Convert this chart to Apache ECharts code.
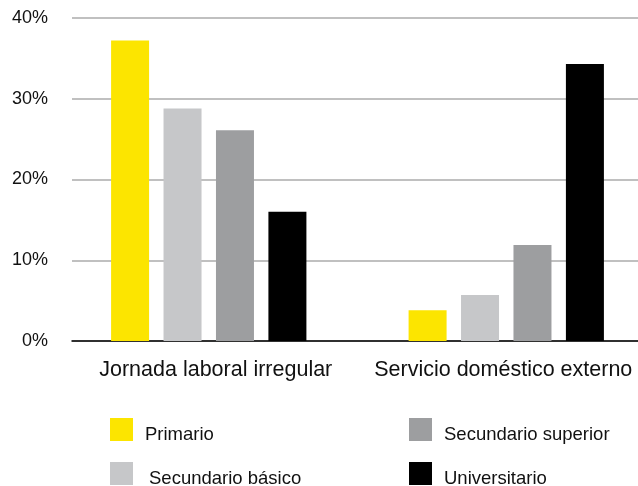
<!DOCTYPE html>
<html>
<head>
<meta charset="utf-8">
<script src="https://cdn.jsdelivr.net/npm/echarts@6/dist/echarts.min.js"></script>
<style>
    html, body { margin: 0; padding: 0; background: #fff; }
    #chart { width: 638px; height: 486px; }
</style>
</head>
<body>
<div id="chart"></div>
<script>
    // datos
    const categories = ['Jornada laboral irregular', 'Servicio doméstico externo'];
    const seriesNames = ['Primario', 'Secundario básico', 'Secundario superior', 'Universitario'];
    const primario = [37.2, 3.8];
    const secundarioBasico = [28.8, 5.7];
    const secundarioSuperior = [26.1, 11.9];
    const universitario = [16.0, 34.3];
    const yTicks = [0, 10, 20, 30, 40];

    const colors = ['#FCE500', '#C6C7C9', '#9D9EA0', '#000000'];
    const font = 'Liberation Sans, Arial, sans-serif';
    const values = [primario, secundarioBasico, secundarioSuperior, universitario];

    // posicion de cada item de leyenda [left, top]
    const legendPos = [[110, 418], [110, 462], [409, 418], [409, 462]];

    const chart = echarts.init(document.getElementById('chart'));

    const option = {
        animation: false,
        color: colors,
        legend: seriesNames.map((name, i) => ({
            orient: 'vertical',
            left: legendPos[i][0],
            top: legendPos[i][1],
            padding: 0,
            icon: 'rect',
            itemWidth: 23,
            itemHeight: 23,
            selectedMode: false,
            formatter: '{t|{name}}',
            textStyle: {
                fontFamily: font,
                fontSize: 18.5,
                color: '#111',
                rich: {
                    t: {
                        fontFamily: font,
                        fontSize: 18.5,
                        color: '#111',
                        padding: [11, 0, 0, i === 1 ? 11 : 7]
                    }
                }
            },
            data: [name]
        })),
        grid: [
            // barras
            { left: 60, width: 595, top: 18, bottom: 145, outerBoundsMode: 'none' },
            // ejes y lineas
            { left: 72, right: 0, top: 18, bottom: 145, outerBoundsMode: 'none' }
        ],
        xAxis: [
            {
                gridIndex: 0,
                type: 'category',
                data: categories,
                axisLine: { show: false },
                axisTick: { show: false },
                axisLabel: {
                    interval: 0,
                    fontFamily: font,
                    fontSize: 21.5,
                    color: '#111',
                    margin: 18,
                    formatter: (v, i) => (i === 0 ? '{a|' + v + '}' : '{b|' + v + '}'),
                    rich: {
                        a: { fontFamily: font, fontSize: 21.5, color: '#111', padding: [0, 0, 0, 14] },
                        b: { fontFamily: font, fontSize: 21.5, color: '#111', padding: [0, 6, 0, 0] }
                    }
                }
            },
            {
                gridIndex: 1,
                type: 'category',
                data: categories,
                axisLine: { show: true, lineStyle: { color: '#000', width: 1.5 } },
                axisTick: { show: false },
                axisLabel: { show: false }
            }
        ],
        yAxis: [
            {
                gridIndex: 0,
                type: 'value',
                min: 0,
                max: 40,
                interval: 10,
                show: false
            },
            {
                gridIndex: 1,
                type: 'value',
                min: yTicks[0],
                max: yTicks[yTicks.length - 1],
                interval: 10,
                z: 0,
                axisLine: { show: false },
                axisTick: { show: false },
                splitLine: { show: true, lineStyle: { color: '#ABABAB', width: 1.5 } },
                axisLabel: {
                    fontFamily: font,
                    fontSize: 18,
                    color: '#111',
                    margin: 24,
                    formatter: '{value}%'
                }
            }
        ],
        series: seriesNames.map((name, i) => ({
            name,
            type: 'bar',
            xAxisIndex: 0,
            yAxisIndex: 0,
            barWidth: 38,
            barGap: '38%',
            z: 3,
            data: values[i]
        }))
    };

    chart.setOption(option);
</script>
</body>
</html>
